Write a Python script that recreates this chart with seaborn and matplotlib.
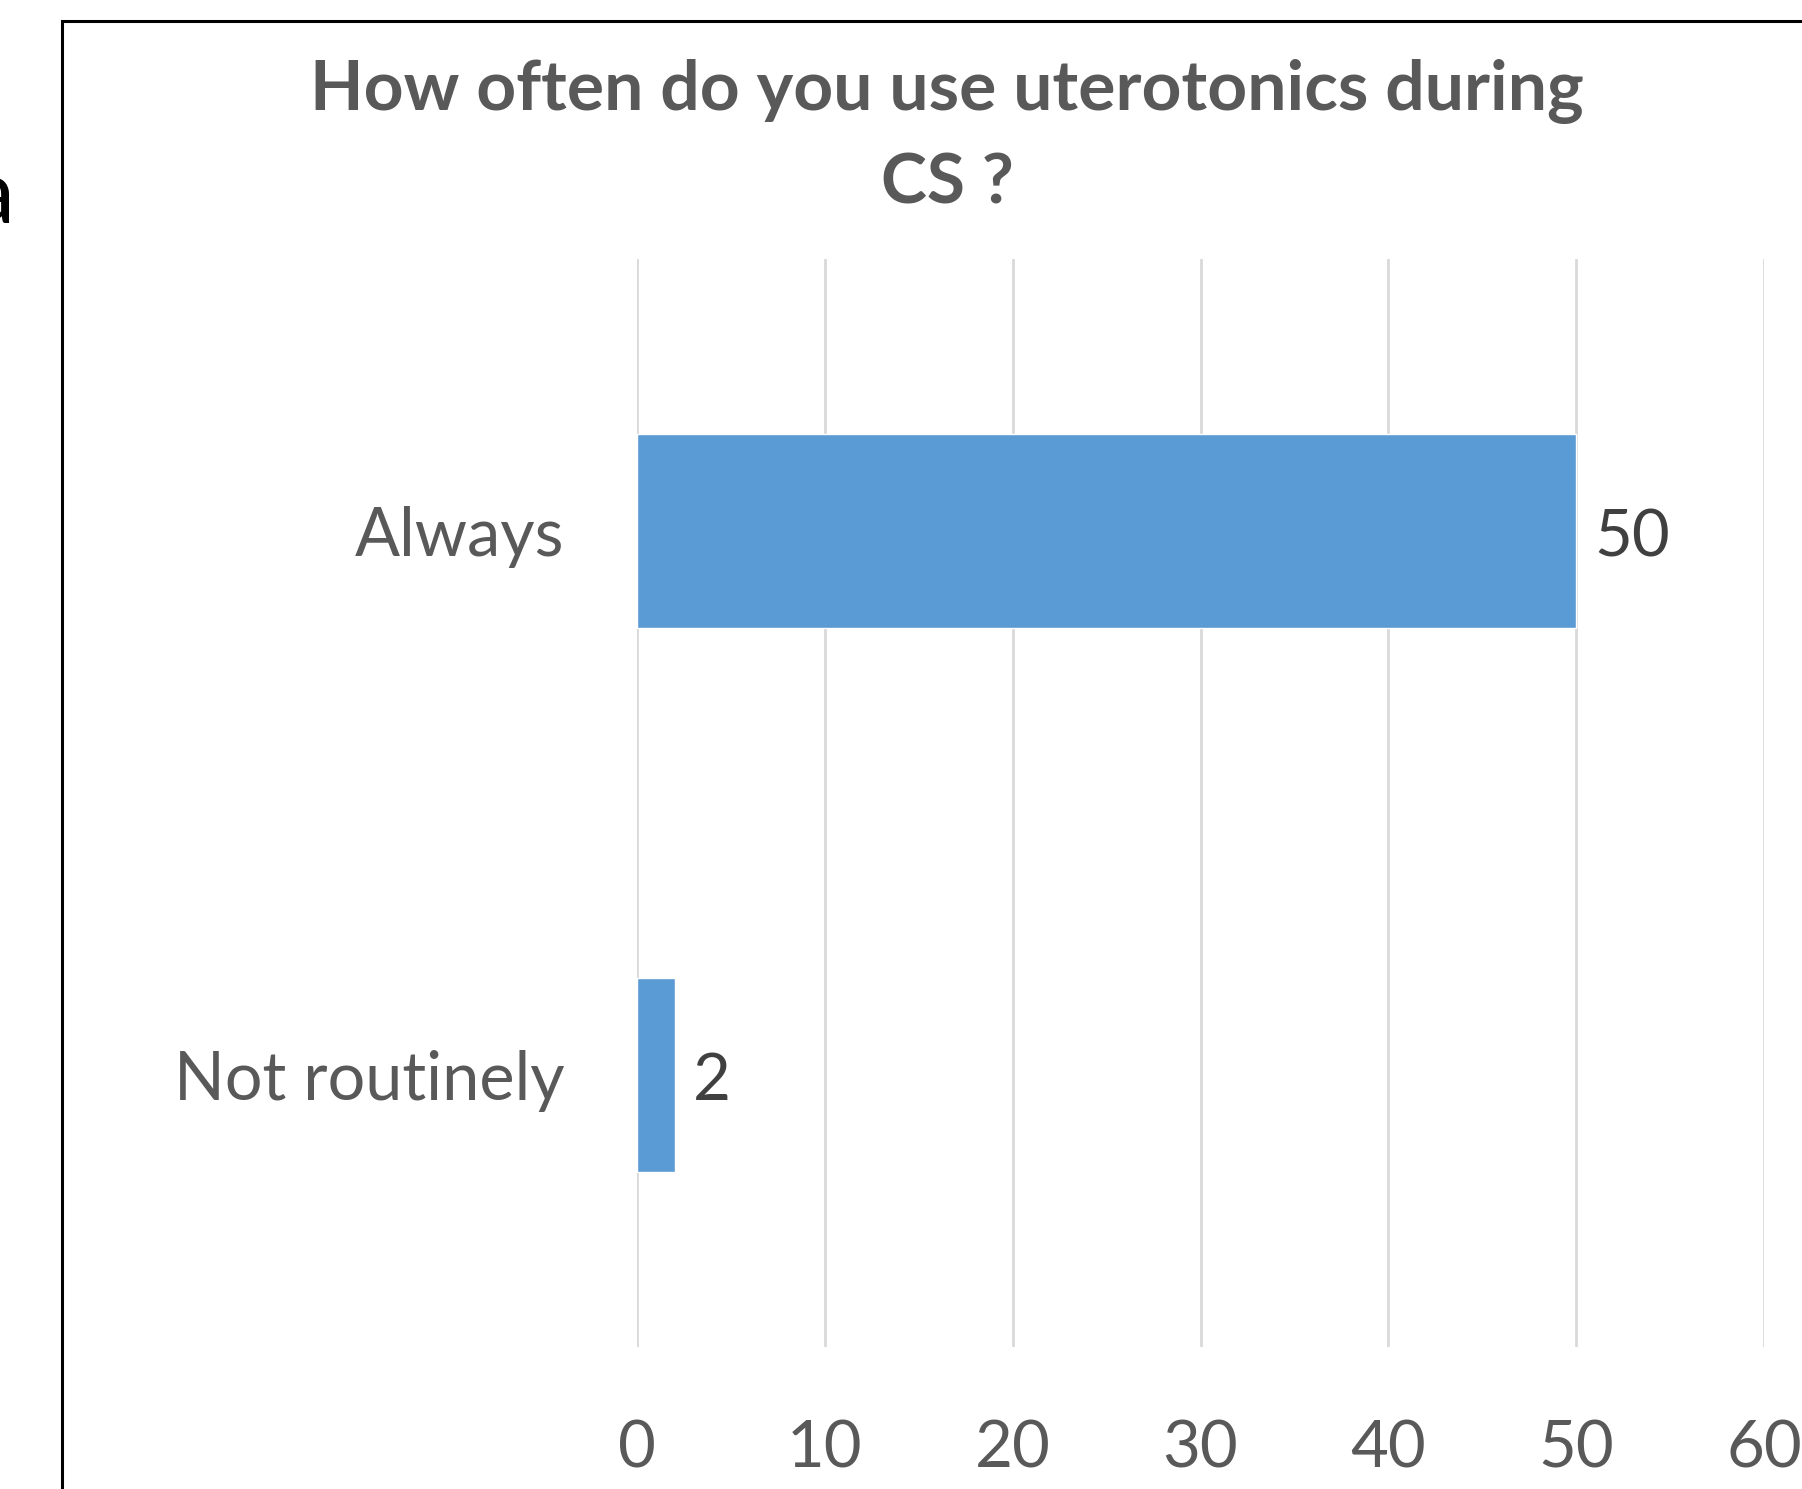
import matplotlib
matplotlib.use("Agg")
import matplotlib.pyplot as plt
import seaborn as sns
import pandas as pd
from matplotlib.patches import Rectangle

categories = ["Always", "Not routinely"]
values = [50, 2]
x_ticks = [0, 10, 20, 30, 40, 50, 60]
title = "How often do you use uterotonics during\nCS ?"

BAR = "#5B9BD5"
TXT = "#595959"
GRID = "#D9D9D9"

sns.set_theme(style="white")
plt.rcParams["font.family"] = ["Lato", "DejaVu Sans"]

W, H = 1802, 1489
fig = plt.figure(figsize=(W / 100, H / 100), dpi=100)
ax = fig.add_axes([637 / W, 1 - 1347 / H, (1764 - 637) / W, (1347 - 259) / H])

df = pd.DataFrame({"category": categories, "value": values})
sns.barplot(data=df, x="value", y="category", orient="h", color=BAR,
            width=0.355, saturation=1, ax=ax, zorder=3)

ax.set_xlim(0, 60)
ax.set_xticks(x_ticks)
ax.set_xticklabels([str(t) for t in x_ticks])
ax.set_xlabel("")
ax.set_ylabel("")
ax.grid(axis="x", color=GRID, linewidth=2, zorder=0)
ax.grid(axis="y", visible=False)
for s in ax.spines.values():
    s.set_visible(False)
ax.tick_params(axis="x", length=0, pad=52, labelsize=47, labelcolor=TXT)
ax.tick_params(axis="y", length=0, pad=52, labelsize=48, labelcolor=TXT)

for c in ax.containers:
    texts = ax.bar_label(c, labels=[str(v) for v in values], padding=13,
                         fontsize=47, color="#404040")
    for t in texts:
        xo, yo = t.xyann
        t.xyann = (xo, yo - 5)

fig.text(947 / W, 1 - 137 / H, title, ha="center", va="center",
         fontsize=50, fontweight="bold", color=TXT, linespacing=1.55)

# outer chart frame
fig.patches.append(Rectangle((62 / W, -0.1), 1.2, 1 - 21 / H + 0.1,
                             transform=fig.transFigure, fill=False,
                             edgecolor="black", linewidth=2.2))
# cut-off letter from neighbouring content
fig.text(14 / W, 1 - 224 / H, "a", ha="right", va="baseline",
         fontsize=65, color="black")

fig.savefig("out.png", dpi=100)
